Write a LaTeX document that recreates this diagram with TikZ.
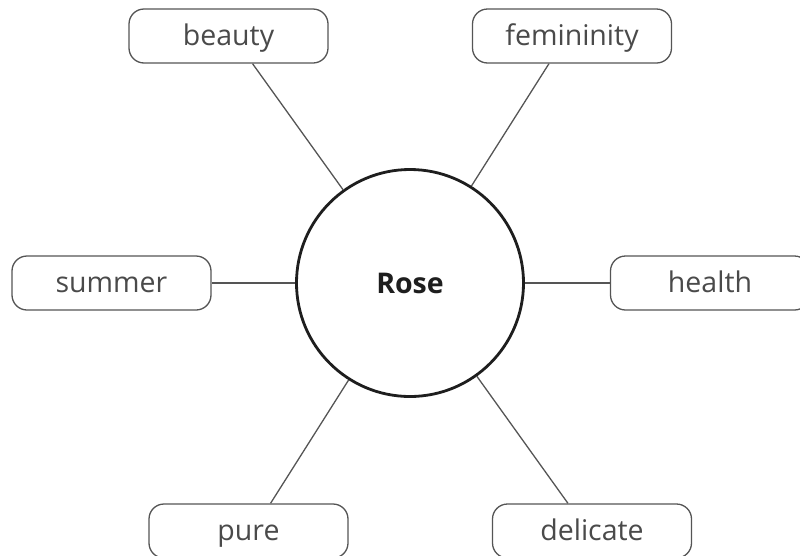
\documentclass[tikz,border=0pt]{standalone}
\usepackage{fontspec}
\setmainfont{Open Sans}
\usetikzlibrary{calc}
\definecolor{boxgray}{HTML}{555555}
\definecolor{textgray}{HTML}{4A4A4A}
\definecolor{ringblack}{HTML}{1E1E1E}
\begin{document}
\begin{tikzpicture}[x=1pt, y=-1pt,
    leaf/.style={draw=boxgray, line width=1.3pt, rounded corners=15pt, fill=white,
        minimum width=199pt, minimum height=54pt, inner sep=0pt,
        text height=24pt, text depth=6pt,
        text=textgray, font=\fontsize{28.5}{34}\selectfont},
    hub/.style={circle, draw=ringblack, line width=2.8pt, fill=white,
        minimum size=227pt, inner sep=0pt, text=ringblack,
        font=\fontsize{28.5}{34}\selectfont\bfseries},
    link/.style={draw=boxgray, line width=1.3pt}]
    \path[use as bounding box] (0,0) rectangle (800,555);
    \node[hub] (rose) at (410,283) {Rose};

    \node[leaf] (beauty)     at (228.5,36)  {beauty};
    \node[leaf] (femininity) at (572,36)    {femininity};
    \node[leaf] (summer)     at (111.5,283) {summer};
    \node[leaf] (health)     at (710,283)   {health};
    \node[leaf] (pure)       at (248.5,531) {pure};
    \node[leaf] (delicate)   at (592,531)   {delicate};

    % feet of the spokes on the box edges
    \coordinate (beautyfoot)   at ($(beauty.south west)!0.62!(beauty.south east)$);
    \coordinate (femfoot)      at ($(femininity.south west)!0.385!(femininity.south east)$);
    \coordinate (purefoot)     at ($(pure.north west)!0.61!(pure.north east)$);
    \coordinate (delicatefoot) at ($(delicate.north west)!0.38!(delicate.north east)$);

    \draw[link] (rose) -- (beautyfoot);
    \draw[link] (rose) -- (femfoot);
    \draw[link] (rose) -- (summer);
    \draw[link] (rose) -- (health);
    \draw[link] (rose) -- (purefoot);
    \draw[link] (rose) -- (delicatefoot);
\end{tikzpicture}
\end{document}
